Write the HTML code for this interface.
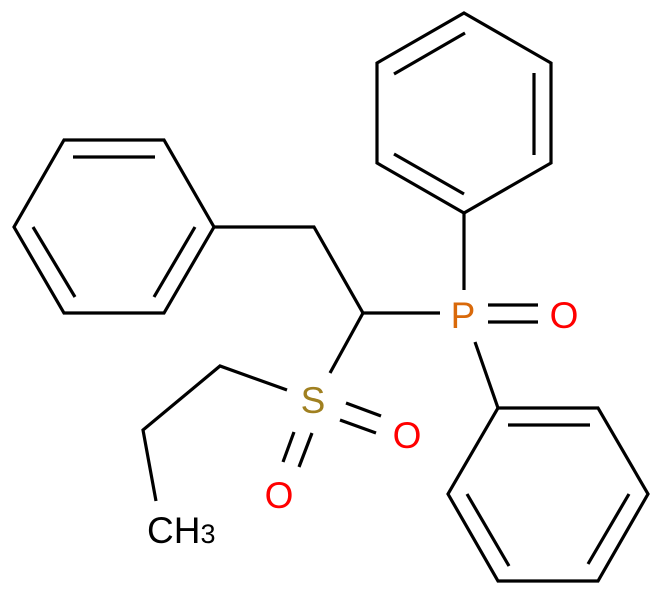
<!DOCTYPE html>
<html><head><style>body{margin:0;background:#fff}svg{display:block}</style></head><body>
<svg width="663" height="595" viewBox="0 0 663 595" xmlns="http://www.w3.org/2000/svg">
<g stroke="#000" stroke-width="3.2" fill="none" stroke-linecap="butt" stroke-linejoin="miter">
<polygon points="64,140 164,140 214,227 164,313 64,313 14,227"/>
<line x1="73" y1="157" x2="155" y2="157"/>
<line x1="33" y1="227" x2="75" y2="297"/>
<line x1="195" y1="227" x2="154" y2="297"/>
<polyline points="214,227 314,227 363,313 440,313"/>
<line x1="363" y1="313" x2="330" y2="373"/>
<polyline points="287,390 220,366 143,430 156,501"/>
<line x1="346" y1="403" x2="381" y2="416"/>
<line x1="340" y1="420" x2="376" y2="433"/>
<line x1="312" y1="433" x2="299" y2="467"/>
<line x1="294" y1="432" x2="283" y2="462"/>
<line x1="488" y1="305" x2="538" y2="305"/>
<line x1="488" y1="322" x2="538" y2="322"/>
<line x1="475" y1="342" x2="498" y2="408"/>
<polygon points="498,408 598,408 648,494 598,581 498,581 448,494"/>
<line x1="508" y1="425" x2="590" y2="425"/>
<line x1="467" y1="494" x2="509" y2="566"/>
<line x1="629" y1="494" x2="588" y2="564"/>
<line x1="464" y1="213" x2="464" y2="290"/>
<polygon points="464,13 551,63 551,163 464,213 377,163 377,63"/>
<line x1="465" y1="33" x2="394" y2="74"/>
<line x1="534" y1="73" x2="534" y2="155"/>
<line x1="394" y1="154" x2="464" y2="194"/>
</g>
<g font-family="Liberation Sans, sans-serif" font-size="37" text-anchor="middle">
<text x="463" y="328" fill="#d9690a">P</text>
<text x="564" y="328" fill="#f00">O</text>
<text x="313" y="413" fill="#a08020">S</text>
<text x="407" y="448" fill="#f00">O</text>
<text x="279" y="508" fill="#f00">O</text>
<text x="147" y="543" fill="#000" text-anchor="start">CH<tspan font-size="27">3</tspan></text>
</g>
</svg>
</body></html>
